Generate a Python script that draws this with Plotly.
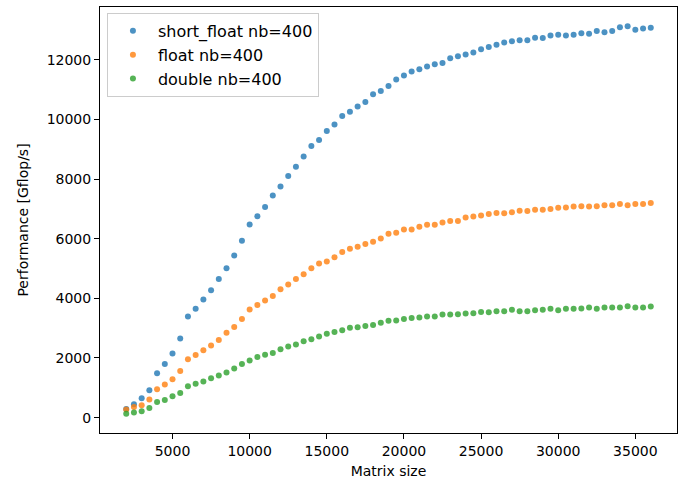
import plotly.graph_objects as go

matrix_size = list(range(2000, 36001, 500))

short_float = [
    290, 450, 650, 920, 1490, 1800, 2150, 2650, 3390, 3650,
    3960, 4275, 4650, 5010, 5440, 5930, 6480, 6750, 7060, 7450,
    7750, 8100, 8410, 8760, 9110, 9310, 9610, 9830, 10110, 10260,
    10430, 10580, 10840, 10950, 11120, 11340, 11470, 11610, 11680, 11770,
    11850, 11890, 12050, 12115, 12180, 12240, 12350, 12430, 12505, 12575,
    12620, 12650, 12650, 12740, 12730, 12810, 12840, 12810, 12840, 12885,
    12870, 12965, 12920, 12965, 13090, 13120, 13010, 13045, 13075,
]

float_vals = [
    270, 360, 415, 605, 950, 1110, 1290, 1565, 1960, 2100,
    2260, 2420, 2605, 2850, 3040, 3310, 3625, 3780, 3925, 4080,
    4305, 4465, 4650, 4810, 5010, 5170, 5235, 5380, 5550, 5660,
    5730, 5820, 5895, 6005, 6165, 6200, 6310, 6310, 6400, 6465,
    6465, 6545, 6590, 6590, 6710, 6745, 6780, 6825, 6860, 6850,
    6890, 6935, 6925, 6970, 6970, 7000, 7035, 7045, 7080, 7090,
    7080, 7090, 7125, 7125, 7160, 7125, 7160, 7160, 7195,
]

double_vals = [
    134, 170, 215, 325, 525, 595, 715, 830, 1050, 1140,
    1210, 1320, 1410, 1510, 1645, 1800, 1915, 2035, 2105, 2170,
    2295, 2385, 2450, 2565, 2630, 2720, 2810, 2875, 2930, 3010,
    3030, 3075, 3110, 3180, 3245, 3260, 3305, 3345, 3355, 3390,
    3390, 3455, 3455, 3470, 3490, 3500, 3545, 3535, 3570, 3570,
    3615, 3570, 3570, 3605, 3615, 3650, 3605, 3650, 3650, 3660,
    3690, 3650, 3690, 3690, 3690, 3735, 3690, 3690, 3725,
]

series_names = ["short_float nb=400", "float nb=400", "double nb=400"]
series_values = [short_float, float_vals, double_vals]
series_colors = ["#1f77b4", "#ff7f0e", "#2ca02c"]

x_ticks = [5000, 10000, 15000, 20000, 25000, 30000, 35000]
y_ticks = [0, 2000, 4000, 6000, 8000, 10000, 12000]

fig = go.Figure()
for name, vals, col in zip(series_names, series_values, series_colors):
    fig.add_trace(go.Scatter(
        x=matrix_size, y=vals, mode="markers", name=name,
        marker=dict(color=col, size=6, opacity=0.8, line=dict(width=0)),
    ))

font = "DejaVu Sans"
axis_common = dict(
    showline=True, linecolor="black", linewidth=1, mirror=True,
    ticks="outside", ticklen=5, tickwidth=1, tickcolor="black",
    showgrid=False, zeroline=False, tickformat="d",
    tickfont=dict(family=font, size=14, color="black"),
)

fig.update_layout(
    width=678, height=483,
    margin=dict(l=100, r=1, t=7, b=50),
    paper_bgcolor="white", plot_bgcolor="white",
    font=dict(family=font, size=14, color="black"),
    xaxis=dict(range=[300, 37700], tickvals=x_ticks,
               title=dict(text="Matrix size", font=dict(family=font, size=14), standoff=8),
               **axis_common),
    yaxis=dict(range=[-515, 13769], tickvals=y_ticks,
               title=dict(text="Performance [Gflop/s]", font=dict(family=font, size=14), standoff=14),
               **axis_common),
    legend=dict(
        x=0.012, y=0.986, xanchor="left", yanchor="top",
        bgcolor="rgba(255,255,255,0.8)", bordercolor="#cccccc", borderwidth=1,
        font=dict(family=font, size=16, color="black"),
        tracegroupgap=0, itemwidth=40,
    ),
    showlegend=True,
)

fig.write_html("out.html", config={"displayModeBar": False},
               post_script="document.body.style.margin='0';")
